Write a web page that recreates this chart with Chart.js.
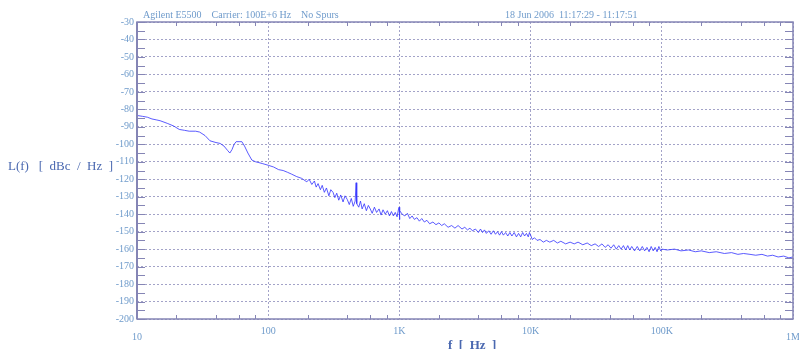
<!DOCTYPE html>
<html>
<head>
<meta charset="utf-8">
<script src="https://cdn.jsdelivr.net/npm/chart.js@4.4.0/dist/chart.umd.min.js"></script>
<style>
  html, body { margin: 0; padding: 0; background: #fff; }
  #wrap { width: 799px; height: 349px; position: relative; }
</style>
</head>
<body>
<div id="wrap"><canvas id="c"></canvas></div>
<script>
// phase noise trace (Hz, dBc/Hz)
const freqs = [
  10, 11, 12, 13, 14, 15, 17, 19, 21, 23, 25, 28, 30, 33, 36, 40, 43, 46, 49, 51,
  53, 55, 57, 60, 63, 66, 70, 75, 80, 85, 90, 100,
  110, 120, 130, 140, 150, 165, 180,
  197, 205, 215, 225, 232, 240, 250, 258, 268, 278,
  290, 300, 312, 322, 333, 345, 357, 372, 385, 400,
  415, 430, 445, 460, 468, 473, 490, 505, 520, 540,
  560, 580, 600, 620, 645, 670, 700, 725, 750, 780,
  810, 840, 870, 900, 930, 960, 985, 995, 1000,
  1010, 1050, 1100, 1150, 1200, 1250, 1300, 1360, 1420, 1480,
  1550, 1620, 1700, 1800, 1900, 2000, 2100, 2200, 2350, 2500,
  2650, 2800, 3000, 3150, 3300, 3450, 3600, 3800, 4000, 4150,
  4300, 4450, 4600, 4800, 5000, 5200, 5400, 5600, 5800, 6000,
  6200, 6450, 6700, 6950, 7200, 7500, 7800, 8100, 8400, 8700,
  9000, 9300, 9600, 9800, 10000,
  10300, 10700, 11200, 11800, 12500, 13200, 14000, 15000, 16000, 17000,
  18500, 20000, 21500, 23000, 25000, 27000, 29000, 31000, 33000, 35000,
  37000, 39000, 41000, 43000, 45000, 47000, 49000, 51000, 53000, 55000,
  57000, 59000, 62000, 65000, 68000, 71000, 74000, 77000, 80000, 83000,
  86000, 89000, 92000, 95000, 98000, 100000,
  110000, 125000, 140000, 160000, 180000, 200000, 230000, 260000, 300000, 340000,
  380000, 420000, 470000, 520000, 580000, 640000, 700000, 770000, 850000, 930000, 1000000
];
const noise = [
  -83.5, -84, -84.5, -85.5, -86, -86.5, -88, -89.5, -91.5, -92, -92.5, -92.5, -93, -95, -98, -99, -99.5, -101, -103.5, -105,
  -103, -100, -98.5, -98.5, -98.5, -101, -105, -109, -110, -110.5, -111, -112,
  -113, -114.5, -115, -116, -117, -118.5, -119.5,
  -121.5, -120, -123, -121, -124.5, -122.5, -126, -123.5, -127.5, -125,
  -129.5, -126, -127.5, -130.5, -128, -132, -129, -133, -129.5, -131.5,
  -134.5, -131, -135.5, -132.5, -122, -134, -136, -132.5, -137, -134,
  -138, -135, -137, -139.5, -136, -139, -137, -140.5, -137.5, -140,
  -138, -141, -138.5, -141, -139, -141.5, -137, -136, -143,
  -138, -140, -141, -139.5, -142.5, -141, -143, -142, -144, -142.5,
  -144.5, -143.5, -145.5, -144.5, -146, -145, -146.5, -145.5, -147.5, -146.5,
  -148, -146.5, -148.5, -147.5, -149, -148, -149.5, -148.5, -150.5, -148.5,
  -150.5, -149, -151, -149.5, -151.5, -149.5, -151.5, -150, -152, -150,
  -152, -150.5, -152.5, -150.5, -152.5, -150.5, -153, -151, -153, -150.5,
  -152.5, -151, -153, -150.5, -152,
  -154.5, -153.5, -155, -154.5, -156, -155, -156, -155, -156.5, -155.5,
  -157, -156, -157, -156, -157.5, -156.5, -158, -157, -158.5, -157,
  -159, -157.5, -159.5, -157.5, -160, -158, -160, -158, -160.5, -158,
  -160.5, -158.5, -161, -158.5, -161, -158.5, -161, -159, -161.5, -158.5,
  -161, -159, -161.5, -158.5, -161, -160,
  -160.5, -160, -161, -160.5, -161.5, -161, -162, -161.5, -162.5, -162,
  -163, -162.5, -163, -163.5, -163, -164, -163.5, -164.5, -164, -165, -164.5
];

const xTicks = [10, 100, 1000, 10000, 100000, 1000000];
const xTickLabels = ['10', '100', '1K', '10K', '100K', '1M'];
const yTicks = [-30, -40, -50, -60, -70, -80, -90, -100, -110, -120, -130, -140, -150, -160, -170, -180, -190, -200];

const headerLeft = 'Agilent E5500    Carrier: 100E+6 Hz    No Spurs';
const headerRight = '18 Jun 2006  11:17:29 - 11:17:51';
const yTitle = 'L(f)   [  dBc  /  Hz  ]';
const xTitle = 'f  [  Hz  ]';

const axisColor = '#8585b5';
const labelColor = '#6f9bcb';
const titleColor = '#4a68b0';
const serif = '"Liberation Serif", "DejaVu Serif", serif';

const frame = {
  id: 'frame',
  afterDraw(chart) {
    const ctx = chart.ctx;
    const a = chart.chartArea;
    const xs = chart.scales.x, ys = chart.scales.y;
    ctx.save();
    ctx.strokeStyle = axisColor;
    ctx.lineWidth = 1.5;
    ctx.strokeRect(a.left, a.top, a.right - a.left, a.bottom - a.top);
    ctx.lineWidth = 2;
    ctx.beginPath();
    ctx.moveTo(a.left, a.top); ctx.lineTo(a.left, a.bottom);
    ctx.stroke();

    // y ticks every 5 dB, left and right
    ctx.lineWidth = 1.2;
    for (let v = -30; v >= -200; v -= 5) {
      const y = Math.round(ys.getPixelForValue(v)) + 0.5;
      ctx.beginPath();
      ctx.moveTo(a.left, y); ctx.lineTo(a.left + 8, y);
      ctx.moveTo(a.right, y); ctx.lineTo(a.right - 8, y);
      ctx.stroke();
    }
    // x minor ticks at 2,4,6,8 per decade, top and bottom
    ctx.lineWidth = 1;
    for (let d = 10; d < 1000000; d *= 10) {
      for (const m of [2, 4, 6, 8]) {
        const x = Math.round(xs.getPixelForValue(d * m)) + 0.5;
        ctx.beginPath();
        ctx.moveTo(x, a.top); ctx.lineTo(x, a.top + 4);
        ctx.moveTo(x, a.bottom); ctx.lineTo(x, a.bottom - 4);
        ctx.stroke();
      }
    }

    // tick labels
    ctx.fillStyle = labelColor;
    ctx.font = '10px ' + serif;
    ctx.textAlign = 'right';
    ctx.textBaseline = 'middle';
    yTicks.forEach(v => ctx.fillText(String(v), a.left - 3, ys.getPixelForValue(v)));
    ctx.textAlign = 'center';
    xTicks.forEach((v, i) => {
      const low = (i === 0 || i === xTicks.length - 1);
      ctx.fillText(xTickLabels[i], xs.getPixelForValue(v), low ? a.bottom + 18 : a.bottom + 12);
    });

    // header texts
    ctx.textAlign = 'left';
    ctx.textBaseline = 'alphabetic';
    ctx.fillText(headerLeft, a.left + 6, a.top - 4);
    ctx.fillText(headerRight, 505, a.top - 4);

    // axis titles
    ctx.fillStyle = titleColor;
    ctx.font = '13px ' + serif;
    ctx.textBaseline = 'middle';
    ctx.fillText(yTitle, 8, 167);
    ctx.font = 'bold 13px ' + serif;
    ctx.fillText(xTitle, 448, 346);
    ctx.restore();
  }
};

new Chart(document.getElementById('c'), {
  type: 'scatter',
  data: {
    datasets: [{
      data: freqs.map((f, i) => ({ x: f, y: noise[i] })),
      showLine: true,
      borderColor: 'rgba(50, 50, 255, 0.8)',
      borderWidth: 1,
      pointRadius: 0,
      tension: 0
    }]
  },
  options: {
    responsive: true,
    maintainAspectRatio: false,
    animation: false,
    layout: { padding: { left: 137, top: 22, right: 6, bottom: 30 } },
    plugins: { legend: { display: false }, tooltip: { enabled: false } },
    scales: {
      x: {
        type: 'logarithmic',
        min: 10,
        max: 1000000,
        afterBuildTicks: s => { s.ticks = xTicks.map(v => ({ value: v })); },
        ticks: { display: false },
        grid: { color: '#a3a3c8', lineWidth: 1, drawTicks: false },
        border: { display: false, dash: [2, 2] }
      },
      y: {
        min: -200,
        max: -30,
        ticks: { display: false, stepSize: 10 },
        grid: { color: '#a3a3c8', lineWidth: 1, drawTicks: false },
        border: { display: false, dash: [2, 2] }
      }
    }
  },
  plugins: [frame]
});
</script>
</body>
</html>
